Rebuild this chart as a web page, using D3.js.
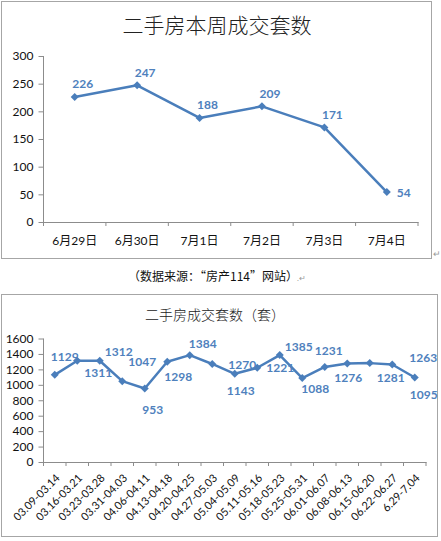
<!DOCTYPE html>
<html lang="zh">
<head>
<meta charset="UTF-8">
<title>二手房成交套数</title>
<style>
  body { margin: 0; background: #fff; }
  svg text { font-family: Lato, "Noto Sans CJK SC", sans-serif; }
</style>
</head>
<body>
<script src="https://d3js.org/d3.v7.min.js"></script>
<script>
// top chart: this week
const dayLabels = ["6月29日", "6月30日", "7月1日", "7月2日", "7月3日", "7月4日"];
const dayValues = [226, 247, 188, 209, 171, 54];
const dayTicks = [0, 50, 100, 150, 200, 250, 300];

// bottom chart: weekly
const weekLabels = ["03.09-03.14", "03.16-03.21", "03.23-03.28", "03.31-04.03", "04.06-04.11",
  "04.13-04.18", "04.20-04.25", "04.27-05.03", "05.04-05.09", "05.11-05.16", "05.18-05.23",
  "05.25-05.31", "06.01-06.07", "06.08-06.13", "06.15-06.20", "06.22-06.27", "6.29-7.04"];
const weekValues = [1129, 1311, 1312, 1047, 953, 1298, 1384, 1270, 1143, 1221, 1385, 1088,
  1231, 1276, 1281, 1263, 1095];
const weekTicks = [0, 200, 400, 600, 800, 1000, 1200, 1400, 1600];

// label nudges for the bottom chart (hand placed in the original)
const weekNudge = [[10, -18], [21, 12], [19, -9], [20, -19], [8, 21], [11, 15], [13, -11],
  [30, 1], [6, 17], [23, 0], [19, -8], [13, 11], [4, -16], [1, 14], [21, 15], [31, -7], [9, 17]];

const blue = "#4a7ebb";
const labelBlue = "#4f81bd";
const axisGrey = "#8c8c8c";
const frameGrey = "#a6a6a6";

const svg = d3.select("body").append("svg")
  .attr("width", 441)
  .attr("height", 541);

function frame(x, y, w, h) {
  svg.append("rect")
    .attr("x", x).attr("y", y).attr("width", w).attr("height", h)
    .attr("fill", "#fff").attr("stroke", frameGrey).attr("stroke-width", 1);
}

function lineChart(opt) {
  const x = d3.scaleBand().domain(opt.cats).range([opt.left, opt.right]);
  const y = d3.scaleLinear().domain([0, opt.max]).range([opt.bottom, opt.top]);
  const g = svg.append("g");

  // y axis
  const ya = g.append("g")
    .attr("transform", "translate(" + opt.left + ",0)")
    .call(d3.axisLeft(y).tickValues(opt.ticks).tickFormat(d3.format("d")).tickSize(5).tickPadding(5));
  ya.select(".domain").attr("stroke", axisGrey).attr("d", "M0," + opt.top + "V" + opt.bottom);
  ya.selectAll(".tick line").attr("stroke", axisGrey);
  ya.selectAll(".tick text").attr("font-size", 12).attr("fill", "#111");

  // x axis, ticks on the category boundaries
  const xa = g.append("g")
    .attr("transform", "translate(0," + opt.bottom + ")")
    .call(d3.axisBottom(x).tickSize(0).tickPadding(opt.xPad));
  xa.select(".domain").attr("stroke", axisGrey);
  xa.selectAll(".tick text").attr("font-size", opt.xFont).attr("fill", "#111");
  if (opt.rotate) {
    xa.selectAll(".tick text")
      .attr("text-anchor", "end")
      .attr("dy", "0.35em")
      .attr("transform", "translate(-4,7) rotate(-45)")
      .attr("y", 10).attr("x", 0);
  }
  const bounds = opt.cats.map(c => x(c)).concat([x.range()[1]]);
  g.selectAll(".btick").data(bounds).join("line")
    .attr("x1", d => d).attr("x2", d => d)
    .attr("y1", opt.bottom).attr("y2", opt.bottom + 4)
    .attr("stroke", axisGrey);

  const cx = (d, i) => x(opt.cats[i]) + x.bandwidth() / 2;
  const line = d3.line().x(cx).y(d => y(d));
  g.append("path").datum(opt.vals)
    .attr("d", line)
    .attr("fill", "none")
    .attr("stroke", blue)
    .attr("stroke-width", 2.5)
    .attr("stroke-linejoin", "round");

  g.selectAll(".pt").data(opt.vals).join("path")
    .attr("d", d3.symbol(d3.symbolSquare, 32))
    .attr("transform", (d, i) => "translate(" + cx(d, i) + "," + y(d) + ") rotate(45)")
    .attr("fill", blue);

  g.selectAll(".lbl").data(opt.vals).join("text")
    .attr("x", (d, i) => cx(d, i) + opt.nudge(i)[0])
    .attr("y", (d, i) => y(d) + opt.nudge(i)[1])
    .attr("dy", "0.35em")
    .attr("text-anchor", "middle")
    .attr("font-size", 12)
    .attr("font-weight", "bold")
    .attr("fill", labelBlue)
    .text(d => d);

  svg.append("text")
    .attr("x", opt.titleX).attr("y", opt.titleY)
    .attr("text-anchor", "middle")
    .attr("dy", "0.35em")
    .attr("font-size", opt.titleSize)
    .attr("font-weight", 300)
    .attr("fill", "#222")
    .style("font-family", "'Noto Sans CJK SC', sans-serif")
    .text(opt.title);
}

// ---- top chart
frame(1.5, 1.5, 430, 257);
lineChart({
  cats: dayLabels, vals: dayValues, ticks: dayTicks, max: 300,
  left: 43.5, right: 418, top: 56, bottom: 222,
  xPad: 14, xFont: 12, rotate: false,
  nudge: i => i === dayValues.length - 1 ? [17, 1] : [8, -13],
  title: "二手房本周成交套数", titleX: 217, titleY: 26, titleSize: 21
});
svg.append("text")
  .attr("x", 433).attr("y", 257)
  .attr("font-size", 9).attr("fill", "#999")
  .text("↵");

svg.append("text")
  .attr("x", 213).attr("y", 277)
  .attr("text-anchor", "middle")
  .attr("dy", "0.35em")
  .attr("font-size", 12)
  .attr("fill", "#111")
  .style("font-family", "'Noto Sans CJK SC', sans-serif")
  .text("（数据来源：“房产114”网站）");
svg.append("text")
  .attr("x", 297).attr("y", 281)
  .attr("font-size", 8).attr("fill", "#999")
  .text(".↵");

// ---- bottom chart
frame(1.5, 294.5, 436, 242);
lineChart({
  cats: weekLabels, vals: weekValues, ticks: weekTicks, max: 1600,
  left: 43.5, right: 426, top: 338.5, bottom: 462,
  xPad: 6, xFont: 11, rotate: true,
  nudge: i => weekNudge[i],
  title: "二手房成交套数（套）", titleX: 215, titleY: 315, titleSize: 14
});
</script>
</body>
</html>
